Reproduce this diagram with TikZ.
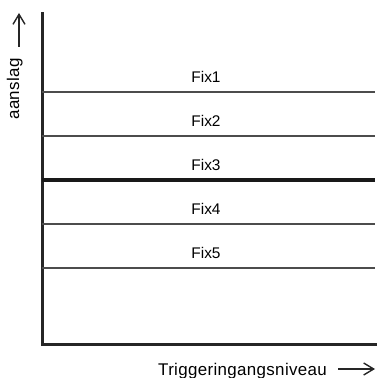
\documentclass[tikz,border=0pt]{standalone}
\usepackage{fontspec}
\setmainfont{Liberation Sans}
\newfontfamily\axisfont[LetterSpace=2]{Liberation Sans}
\usetikzlibrary{arrows.meta,positioning}

\begin{document}
\begin{tikzpicture}[
    x=1bp, y=1bp,
    axis/.style={line width=3bp, black!85, line cap=rect},
    level/.style={line width=1.3bp, black!70},
    mainlevel/.style={line width=3.4bp, black!90},
    fixlabel/.style={font=\fontsize{15.5}{17}\selectfont, inner sep=0pt, anchor=base},
    axislabel/.style={font=\axisfont\fontsize{17}{19}\selectfont, inner sep=0pt},
    pointer/.style={-{Straight Barb[length=10bp,width=12bp]},line width=1.4bp, black!85}
]
\useasboundingbox (0,0) rectangle (378,378);

% axes
\coordinate (top) at (42,364);
\coordinate (origin) at (42,33);
\coordinate (right) at (375,33);
\draw[axis] (top) -- (origin) -- (right);

% level lines
\coordinate (l1) at (42,286);  \coordinate (r1) at (375,286);
\coordinate (l2) at (42,242);  \coordinate (r2) at (375,242);
\coordinate (l3) at (42,198);  \coordinate (r3) at (375,198);
\coordinate (l4) at (42,154);  \coordinate (r4) at (375,154);
\coordinate (l5) at (42,110);  \coordinate (r5) at (375,110);
\draw[level] (l1) -- (r1);
\draw[level] (l2) -- (r2);
\draw[mainlevel] (l3) -- (r3);
\draw[level] (l4) -- (r4);
\draw[level] (l5) -- (r5);

\node[fixlabel] (fix1) at (206,296) {Fix1};
\node[fixlabel] (fix2) at (206,252) {Fix2};
\node[fixlabel] (fix3) at (206,208) {Fix3};
\node[fixlabel] (fix4) at (206,164) {Fix4};
\node[fixlabel] (fix5) at (206,120) {Fix5};

% axis labels
\node[axislabel, rotate=90, anchor=base] (ylabel) at (19,289) {aanslag};
\coordinate (ytail) at (19,331);
\coordinate (yhead) at (19,365);
\draw[pointer] (ytail) -- (yhead);

\node[axislabel, anchor=base west] (xlabel) at (158,3) {Triggeringangsniveau};
\coordinate (xtail) at (338,9);
\coordinate (xhead) at (375,9);
\draw[pointer] (xtail) -- (xhead);

\end{tikzpicture}
\end{document}
